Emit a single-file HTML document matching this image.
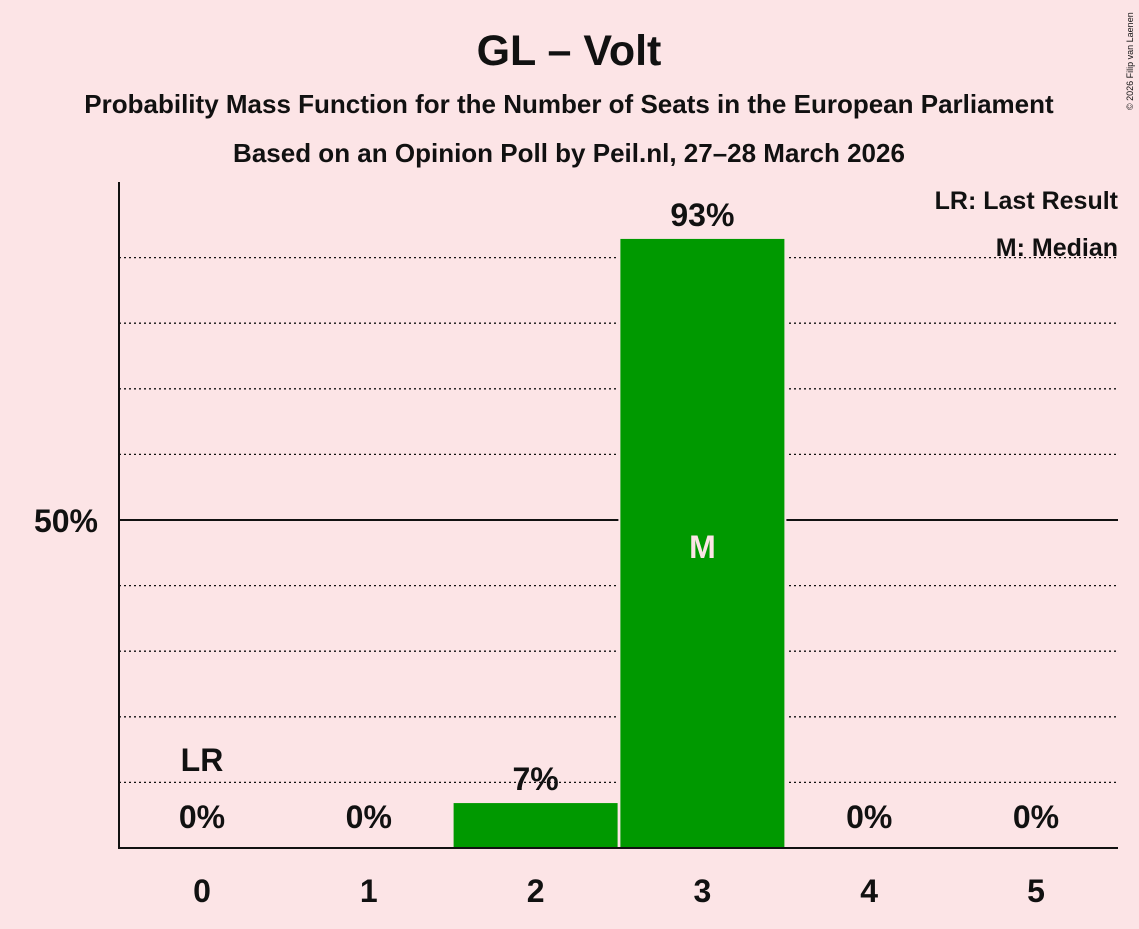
<!DOCTYPE html>
<html><head><meta charset="utf-8"><style>
body{margin:0;background:#fce4e6;}
svg text{font-family:"Liberation Sans",sans-serif;font-weight:bold;fill:#111;}
</style></head><body>
<svg id="c" width="1139" height="924" xmlns="http://www.w3.org/2000/svg">
<rect width="1139" height="924" fill="#fce4e6"/>
<text x="569" y="65" font-size="43" text-anchor="middle">GL – Volt</text>
<text x="569" y="113" font-size="26" text-anchor="middle">Probability Mass Function for the Number of Seats in the European Parliament</text>
<text x="569" y="162" font-size="26" text-anchor="middle">Based on an Opinion Poll by Peil.nl, 27–28 March 2026</text>
<text x="1133" y="110" font-size="9" transform="rotate(-90 1133 110)" style="font-weight:normal">© 2026 Filip van Laenen</text>
<g id="grid"></g>
<g id="bars"></g>
<line x1="119" y1="182" x2="119" y2="848" stroke="#111" stroke-width="2"/>
<line x1="118" y1="848" x2="1118" y2="848" stroke="#111" stroke-width="2"/>
<text x="98" y="532" font-size="32" text-anchor="end">50%</text>
<text x="1118" y="209" font-size="25" text-anchor="end">LR: Last Result</text>
<text x="1118" y="256" font-size="25" text-anchor="end">M: Median</text>
<g id="labels"></g>
</svg>
<script>
const seats=[0,1,2,3,4,5];
const probs=[0,0,7,93,0,0];
const valueLabels=["0%","0%","7%","93%","0%","0%"];
const lastResult=0, median=3;
const ns="http://www.w3.org/2000/svg";
const y=v=>848-v*6.56;
const x=i=>202+i*166.8;
const grid=document.getElementById('grid'),bars=document.getElementById('bars'),labels=document.getElementById('labels');
function mk(tag,attrs,parent){const e=document.createElementNS(ns,tag);for(const k in attrs)e.setAttribute(k,attrs[k]);parent.appendChild(e);return e;}
for(let g=10;g<=90;g+=10){
  const l=mk('line',{x1:119,x2:1118,y1:y(g),y2:y(g),stroke:'#111','stroke-width':g==50?2:1.3,'stroke-dasharray':g==50?'':'2,3'},grid);
  
  
}
seats.forEach((s,i)=>{
  if(probs[i]>0){
    const r=mk('rect',{x:x(i)-83,y:y(probs[i]),width:166,height:848-y(probs[i]),fill:'#009900',stroke:'#fce4e6','stroke-width':2},bars);
    
    
  }
  const ty=probs[i]>0?y(probs[i])-12:828;
  const t=mk('text',{x:x(i),y:ty,'font-size':32,'text-anchor':'middle'},labels);t.textContent=valueLabels[i];
  
  
  const xt=mk('text',{x:x(i),y:902,'font-size':32,'text-anchor':'middle'},labels);xt.textContent=s;
  
  
  if(s===lastResult){const lr=mk('text',{x:x(i),y:771,'font-size':32,'text-anchor':'middle'},labels);lr.textContent='LR';
    
    }
  if(s===median){const m=mk('text',{x:x(i),y:558,'font-size':32,'text-anchor':'middle',style:'fill:#fce4e6'},labels);m.textContent='M';
    
    }
});
</script>
</body></html>
